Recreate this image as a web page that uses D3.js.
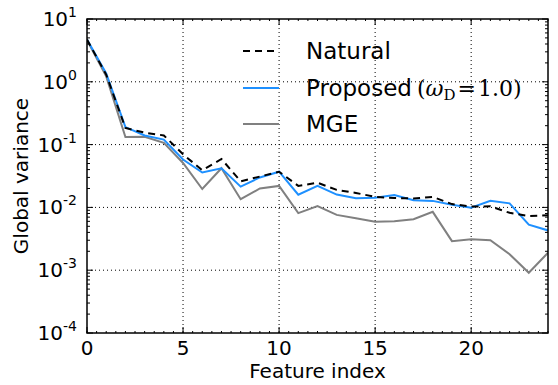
<!DOCTYPE html>
<html>
<head>
<meta charset="utf-8">
<style>
	body { margin: 0; background: white; }
	svg text { font-family: "DejaVu Sans", sans-serif; fill: black; }
	.grid line { stroke: black; stroke-width: 1; stroke-dasharray: 1,3; }
</style>
</head>
<body>
<svg width="558" height="385"></svg>
<script src="https://cdn.jsdelivr.net/npm/d3@7"></script>
<script>
const width = 558, height = 385;
const margin = {left: 87, right: 10, top: 19, bottom: 52};

// data
const featureIndex = d3.range(0, 25);
const natural  = [4.7, 1.3, 0.184, 0.155, 0.14, 0.07, 0.039, 0.059, 0.026, 0.031, 0.037, 0.022, 0.0247, 0.019, 0.017, 0.0147, 0.0141, 0.0139, 0.0147, 0.0113, 0.0103, 0.0104, 0.0082, 0.0073, 0.0075];
const proposed = [4.7, 1.36, 0.19, 0.14, 0.12, 0.058, 0.036, 0.042, 0.0214, 0.030, 0.037, 0.0159, 0.022, 0.016, 0.014, 0.0142, 0.0157, 0.013, 0.0127, 0.011, 0.0099, 0.0127, 0.0116, 0.0053, 0.0043];
const mge      = [4.6, 1.22, 0.132, 0.133, 0.107, 0.051, 0.0196, 0.042, 0.0135, 0.020, 0.022, 0.0081, 0.0105, 0.0076, 0.0067, 0.0059, 0.006, 0.0065, 0.0085, 0.0029, 0.0031, 0.003, 0.0018, 0.00091, 0.0019];
const xTicks = [0, 5, 10, 15, 20];
const yExps = [1, 0, -1, -2, -3, -4];

const series = [
	{name: "Natural", values: natural, color: "black", dash: "7,5"},
	{name: "Proposed", values: proposed, color: "#1e90ff", dash: null},
	{name: "MGE", values: mge, color: "#808080", dash: null}
];

const svg = d3.select("svg");
const x = d3.scaleLinear().domain([0, 24]).range([margin.left, width - margin.right]);
const y = d3.scaleLog().domain([1e-4, 10]).range([height - margin.bottom, margin.top]);
const x0 = x.range()[0], x1 = x.range()[1], y0 = y.range()[0], y1 = y.range()[1];

// grid
const grid = svg.append("g").attr("class", "grid");
grid.selectAll(".gx").data(xTicks.slice(1)).enter().append("line")
	.attr("x1", d => x(d)).attr("x2", d => x(d)).attr("y1", y0).attr("y2", y1);
grid.selectAll(".gy").data(yExps.slice(1, -1)).enter().append("line")
	.attr("y1", d => y(Math.pow(10, d))).attr("y2", d => y(Math.pow(10, d))).attr("x1", x0).attr("x2", x1);

// lines
const line = d3.line().x((d, i) => x(featureIndex[i])).y(d => y(d));
svg.append("defs").append("clipPath").attr("id", "clip")
	.append("rect").attr("x", x0).attr("y", y1).attr("width", x1 - x0).attr("height", y0 - y1);
svg.append("g").attr("clip-path", "url(#clip)")
	.selectAll("path").data(series.slice().reverse()).enter().append("path")
	.attr("d", d => line(d.values))
	.attr("fill", "none")
	.attr("stroke", d => d.color)
	.attr("stroke-width", 2)
	.attr("stroke-dasharray", d => d.dash);

// ticks (inside, on all four sides)
const ticks = svg.append("g").attr("stroke", "black").attr("stroke-width", 1);
const minorY = [];
for (let e = -4; e < 1; e++) for (let m = 2; m < 10; m++) minorY.push(m * Math.pow(10, e));
yExps.forEach(e => {
	const yy = y(Math.pow(10, e));
	ticks.append("line").attr("x1", x0).attr("x2", x0 + 6).attr("y1", yy).attr("y2", yy);
	ticks.append("line").attr("x1", x1).attr("x2", x1 - 6).attr("y1", yy).attr("y2", yy);
});
minorY.forEach(v => {
	const yy = y(v);
	ticks.append("line").attr("x1", x0).attr("x2", x0 + 3).attr("y1", yy).attr("y2", yy);
	ticks.append("line").attr("x1", x1).attr("x2", x1 - 3).attr("y1", yy).attr("y2", yy);
});
xTicks.forEach(v => {
	ticks.append("line").attr("x1", x(v)).attr("x2", x(v)).attr("y1", y0).attr("y2", y0 - 6);
	ticks.append("line").attr("x1", x(v)).attr("x2", x(v)).attr("y1", y1).attr("y2", y1 + 6);
});
d3.range(0, 24.01, 0.5).forEach(v => {
	ticks.append("line").attr("x1", x(v)).attr("x2", x(v)).attr("y1", y0).attr("y2", y0 - 2);
	ticks.append("line").attr("x1", x(v)).attr("x2", x(v)).attr("y1", y1).attr("y2", y1 + 2);
});

// frame
svg.append("rect").attr("x", x0).attr("y", y1).attr("width", x1 - x0).attr("height", y0 - y1)
	.attr("fill", "none").attr("stroke", "black").attr("stroke-width", 1.5);

// tick labels
svg.selectAll(".xl").data(xTicks).enter().append("text")
	.attr("x", d => x(d)).attr("y", y0 + 22)
	.attr("text-anchor", "middle").attr("font-size", 20)
	.text(d => d);
yExps.forEach(e => {
	const t = svg.append("text").attr("x", x0 - 10).attr("y", y(Math.pow(10, e)) + 7)
		.attr("text-anchor", "end").attr("font-size", 20);
	t.append("tspan").text("10");
	t.append("tspan").attr("dy", -9).attr("font-size", 14).text(e);
});

// axis titles
svg.append("text").attr("x", (x0 + x1) / 2).attr("y", 378)
	.attr("text-anchor", "middle").attr("font-size", 20).text("Feature index");
svg.append("text").attr("transform", `translate(28,${(y0 + y1) / 2}) rotate(-90)`)
	.attr("text-anchor", "middle").attr("font-size", 20).text("Global variance");

// legend
const legendY = [51, 88, 124];
const lg = svg.append("g");
series.forEach((s, i) => {
	lg.append("line").attr("x1", 243).attr("x2", 279).attr("y1", legendY[i]).attr("y2", legendY[i])
		.attr("stroke", s.color).attr("stroke-width", 2).attr("stroke-dasharray", s.dash);
	lg.append("text").attr("x", 306).attr("y", legendY[i] + 8).attr("font-size", 23).text(s.name);
});
const math = lg.append("text").attr("x", 417).attr("y", legendY[1] + 8)
	.attr("font-size", 22).style("font-family", "'DejaVu Serif', serif");
math.append("tspan").text("(");
math.append("tspan").attr("font-style", "italic").text("ω");
math.append("tspan").attr("dy", 4).attr("font-size", 15).text("D");
math.append("tspan").attr("dy", -4).attr("dx", 2).text("=");
math.append("tspan").attr("dx", 2).text("1.0)");
</script>
</body>
</html>
